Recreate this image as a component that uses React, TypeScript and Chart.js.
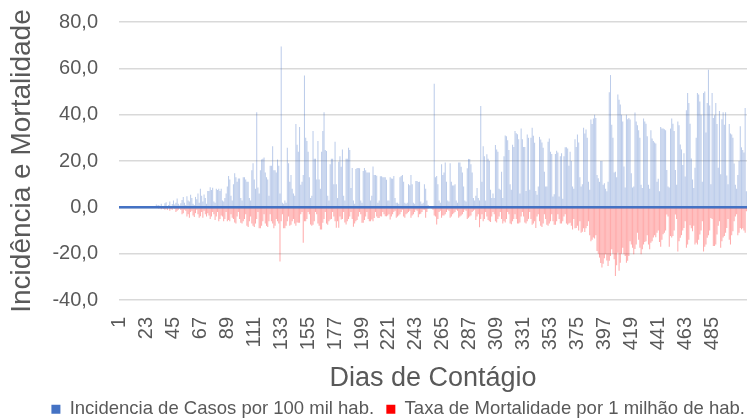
import React, { useEffect, useRef } from 'react';
import { Chart, registerables } from 'chart.js';

Chart.register(...registerables);

// Incidência de casos por 100 mil hab. (dias 1..513)
const incidencia: number[] = [
  0, 0, 0, 0, 0, 0, 0, 0, 0, 0,
  0, 0, 0, 0, 0, 0, 0, 0, 0, 0,
  0, 0, 0, 0, 0, 0, 0, 0, 0, 0,
  1.2, 0.8, 1.0, 0.6, 1.5, 0.4, 0.3, 1.8, 2.2, 0.5,
  1.0, 2.5, 0.6, 1.4, 3.0, 1.2, 2.0, 3.8, 1.5, 0.8,
  1.8, 3.2, 4.5, 2.0, 1.0, 4.8, 3.0, 2.5, 5.4, 4.0,
  1.5, 1.0, 4.5, 3.5, 6.0, 2.0, 8.0, 5.0, 2.5, 5.5,
  4.0, 1.5, 7.0, 7, 8.7, 7.5, 8.5, 2.5, 2, 8,
  7.5, 8, 7, 8, 3, 2.5, 4, 6, 9, 13.5,
  12, 5, 3, 10, 14.7, 13, 11, 12.5, 12.5, 4,
  3, 13, 13, 12, 11, 11, 4, 3, 16, 19,
  12, 8, 41, 8.6, 6, 16, 20.7, 21, 21.5, 15,
  13, 12, 5, 18, 18, 26.4, 16, 16, 15, 20.7,
  18, 6, 69.4, 2, 1.5, 3, 2, 25.7, 19, 11,
  14, 8, 6, 5, 36, 27, 24, 34.7, 9.7, 11,
  14, 56.9, 30, 28.6, 24, 13, 4, 5, 32.9, 21,
  21, 12, 28.6, 12, 8, 24, 33, 41, 24.7, 24.3,
  5, 3, 18.6, 21, 21, 10, 28.3, 10, 4, 19.7,
  22, 17.5, 25, 5, 3, 21, 21, 25.7, 24.7, 8.3,
  17, 3, 1.5, 16.6, 17, 17, 16.9, 3, 2, 15.7,
  17, 16, 15, 15, 15, 3, 5, 17.6, 14, 14,
  13.6, 2, 3, 13.4, 13.4, 13, 13, 13, 11.9, 3,
  3, 13, 12.5, 12.3, 13.5, 4, 2, 2, 1.5, 13,
  13.5, 14, 11, 2, 1.5, 2, 10, 9.5, 14, 10,
  2, 1.5, 11.4, 11.4, 10.9, 11, 2.5, 1.5, 2, 10,
  8, 3, 1, 0.5, 0.5, 0.5, 0.5, 53.3, 13, 13.5,
  10, 3, 2, 18.6, 14, 15, 19.4, 11, 3, 2.5,
  19, 11, 9.4, 9.4, 10, 3, 2, 19.4, 19.4, 17.5,
  15, 9, 3, 2.5, 16.9, 20.9, 20.9, 18.6, 15, 4,
  3, 5, 8.3, 4, 3, 43.7, 11, 26.4, 22, 3,
  22.9, 21, 20, 7.6, 4, 6, 4, 26.9, 25, 24,
  8, 7.6, 15.4, 4, 22, 31, 30.7, 29, 24.7, 10,
  7.6, 27, 26, 33, 32, 31.5, 29.4, 6, 34, 29.4,
  26, 26, 7, 31.4, 30, 7.6, 30, 34.3, 30.9, 27.9,
  7, 5.4, 9, 30.4, 29.3, 28, 25.7, 15.4, 9, 9,
  28.3, 29.7, 24, 23, 4.7, 5.7, 23, 24.4, 23.7, 4.7,
  22, 23.3, 3.7, 22, 25.9, 25.9, 25.4, 18, 24, 20,
  9, 8, 29.4, 26, 31.4, 28, 13, 9, 10, 34.3,
  31.9, 33.6, 30, 11, 7.6, 37.9, 36, 38.3, 40, 38.6,
  14, 12.6, 11, 20, 20, 9.7, 10.4, 8, 6.9, 11,
  49.7, 57.1, 35.7, 30, 15, 15.4, 13, 48.7, 46.4, 44.4,
  40, 37, 17.6, 8.6, 40, 38, 38.6, 37.9, 14.7, 8.6,
  9, 40.9, 37.1, 35.4, 33.3, 30, 9.7, 8.3, 38.3, 37,
  36.1, 30.7, 9.7, 8, 33.3, 29.7, 28.6, 28, 27.6, 11,
  12.3, 6.9, 34.7, 34, 34, 33.7, 33.3, 16.1, 9, 8.6,
  34, 38.3, 36.1, 33, 16.1, 9.7, 37, 35.4, 27.1, 25,
  18.3, 23.3, 13.3, 41.9, 49.4, 45, 36.1, 21.1, 12, 8.3,
  17.1, 30, 49.3, 48.7, 45.7, 40, 11, 49.4, 50, 32.3,
  45, 59.4, 44, 10, 49.3, 38.6, 39.7, 45, 36, 17.1,
  41.6, 14.3, 38, 41, 35.7, 41, 13.7, 10, 36, 31.9,
  31.4, 30, 18.9, 9.7, 8, 14, 20, 35, 25.9, 24.7,
  23.7, 42.9, 6.9,
];

// Taxa de mortalidade por 1 milhão de hab. (plotada negativa)
const mortalidade: number[] = [
  0, 0, 0, 0, 0, 0, 0, 0, 0, 0,
  0, 0, 0, 0, 0, 0, 0, 0, 0, 0,
  0, 0, 0, 0, 0, 0, 0, 0, 0, 0,
  0, -0.3, -0.5, 0, -0.8, -0.4, -0.6, -1.0, -0.5, -1.2,
  -0.3, -1.5, -0.8, -1.0, -0.4, -0.6, -2.0, -1.5, -1.0, -0.5,
  -1.2, -3.0, -2.5, -1.0, -1.5, -4.0, -3.0, -4.5, -2.0, -1.5,
  -3.5, -4.2, -2.5, -1.0, -3.0, -4.5, -3.8, -2.0, -4.5, -1.5,
  -3.0, -4.0, -2.5, -3.5, -5, -4, -2, -3, -5.5, -4,
  -2, -6, -5, -3.5, -4, -6, -5, -2, -6, -5.5,
  -6, -3, -4.5, -5, -6.5, -7, -4, -2, -5, -6.7,
  -7, -6, -5, -3, -8, -8.5, -6, -4, -7, -8,
  -8.5, -7, -5, -2, -9, -9, -8, -6, -3, -7,
  -8, -8.5, -6, -3, -6, -7, -9, -8, -5, -6,
  -7, -23.4, -6, -3, -9, -9, -8, -6, -4, -8,
  -7.5, -6, -5, -7, -8, -6.5, -6.7, -6.7, -3, -2,
  -15.3, -6, -6, -5, -2, -3, -7.4, -8, -7.5, -6,
  -2, -3, -7, -8, -9.6, -9.6, -6.7, -5, -2, -7,
  -7.5, -6, -5.3, -5, -2, -4, -6, -8.8, -6, -8.8,
  -4, -5.3, -5, -2, -6.5, -7.4, -6, -5, -4, -2,
  -5, -8.4, -7, -6, -5.5, -4, -2, -3, -6.7, -6.7,
  -5.5, -4, -2, -5, -6, -6, -5.2, -6, -4.6, -2,
  -4, -4.6, -4.6, -3.9, -4, -2, -3, -3.9, -3.9, -3.5,
  -3, -5.3, -4, -3, -2, -1.5, -4.5, -4, -3.5, -3,
  -2, -1, -4, -4.5, -3, -2.5, -2, -1.5, -4.5, -3.5,
  -3, -2, -1, -1.5, -4.3, -3, -2.8, -2, -1, -1,
  -4.5, -2, -0.5, -0.3, -0.3, -0.5, -1, -3.5, -4, -7.4,
  -5, -2, -1.5, -4.5, -3.5, -3.5, -3, -2, -1, -1.5,
  -4.5, -4, -3, -2.5, -2, -1, -1.5, -4.5, -4, -3.5,
  -3, -2, -1, -1.5, -5, -4.5, -4, -3.5, -2, -1.5,
  -1, -5.5, -4, -3, -8.6, -5, -3, -6, -5, -2,
  -4, -5.5, -6, -6.3, -4, -2, -3, -6, -6.5, -5,
  -4, -2, -5, -7, -6, -6.5, -5, -2, -3, -7,
  -7.3, -6, -5, -3, -5, -7, -7, -6.5, -4, -2,
  -4, -6.5, -7, -6, -5, -2, -5, -7.5, -7, -6,
  -8.9, -4, -3, -6, -8, -8.5, -7, -3, -5, -7.5,
  -8, -7, -6, -3, -6, -7.5, -7.5, -6, -3, -5,
  -7, -7, -6, -4, -3, -7, -7.5, -7, -6.7, -8,
  -9.6, -5, -9, -8.9, -8, -10, -6, -11, -10.5, -9,
  -10.6, -9, -8.1, -6, -12, -14.6, -14, -13, -13.4, -12,
  -18.9, -20, -21.7, -24, -26, -24.3, -22, -20.3, -23, -25.3,
  -23.1, -21, -18.1, -20, -22.4, -29.6, -25, -19.6, -27.4, -23.9,
  -20, -17.4, -20.3, -21, -23.9, -23.1, -21, -14.6, -16, -17.4,
  -20.3, -18, -16, -11, -14, -17.4, -20.3, -18.1, -16, -15,
  -14.6, -12, -16, -18.1, -15.3, -14.6, -13, -12, -12.9, -11,
  -10, -15, -17, -14, -11.6, -11, -10, -3.1, -4, -17,
  -12.4, -13, -12.4, -10, -3.1, -5, -19.1, -14.6, -13.1, -12,
  -10, -8.9, -6, -17.4, -16, -14, -7.7, -9, -10.3, -8,
  -16, -15.3, -16, -14, -11.7, -10, -6, -19.1, -17, -16,
  -13.1, -12, -10, -4.6, -5, -16.7, -16.7, -16, -11.7, -8,
  -6, -17.4, -14.6, -13, -12.4, -11, -8.9, -5, -14, -16,
  -12, -10.3, -6, -4, -3, -12, -11, -8.9, -9.5, -9,
  -10, -11, -1.7,
];

const dias: string[] = incidencia.map((_, i) => String(i + 1));
const diasMarcados: string[] = [
  '1', '23', '45', '67', '89', '111', '133', '155', '177', '199', '221', '243',
  '265', '287', '309', '331', '353', '375', '397', '419', '441', '463', '485',
];
const nomesSeries: string[] = [
  'Incidencia de Casos por 100 mil hab.',
  'Taxa de Mortalidade por 1 milhão de hab.',
];

const TEXT = '#595959';

export default function App() {
  const ref = useRef<HTMLCanvasElement | null>(null);

  useEffect(() => {
    if (!ref.current) return;
    Chart.defaults.font.family = "'Liberation Sans', Arial, sans-serif";

    const zeroLine = {
      id: 'zeroLine',
      afterDatasetsDraw(chart: any) {
        const { ctx, chartArea, scales } = chart;
        const y = scales.y.getPixelForValue(0);
        ctx.save();
        ctx.strokeStyle = '#4472C4';
        ctx.lineWidth = 2.5;
        ctx.beginPath();
        ctx.moveTo(chartArea.left, y);
        ctx.lineTo(chartArea.right, y);
        ctx.stroke();
        ctx.restore();
      },
    };

    const legendColors = ['#4472C4', '#FF0000'];

    const chart = new Chart(ref.current, {
      type: 'bar',
      data: {
        labels: dias,
        datasets: [
          {
            label: nomesSeries[0],
            data: incidencia,
            backgroundColor: 'rgba(68,114,196,0.36)',
            barPercentage: 0.85,
            categoryPercentage: 1,
          },
          {
            label: nomesSeries[1],
            data: mortalidade,
            backgroundColor: 'rgba(255,0,0,0.33)',
            barPercentage: 0.85,
            categoryPercentage: 1,
          },
        ],
      },
      options: {
        responsive: false,
        animation: false,
        devicePixelRatio: 1,
        layout: { padding: { top: 22, right: 0, left: 0, bottom: 0 } },
        plugins: {
          tooltip: { enabled: false },
          legend: {
            position: 'bottom',
            align: 'end',
            maxHeight: 22,
            labels: {
              boxWidth: 9,
              boxHeight: 9,
              padding: 2,
              color: TEXT,
              font: { size: 18.5 },
              generateLabels(chart: any) {
                const items = Chart.defaults.plugins.legend.labels.generateLabels(chart);
                return items.map((it: any, i: number) => ({
                  ...it,
                  text: i === 0 ? it.text + '  ' : it.text,
                  fillStyle: legendColors[i],
                  strokeStyle: legendColors[i],
                  lineWidth: 0,
                }));
              },
            },
          },
        },
        scales: {
          x: {
            stacked: true,
            grid: { display: false, drawTicks: false },
            border: { display: false },
            ticks: {
              autoSkip: false,
              maxRotation: 90,
              minRotation: 90,
              padding: 17,
              color: TEXT,
              font: { size: 20 },
              callback: (_v: any, i: number) => (diasMarcados.includes(dias[i]) ? dias[i] : ''),
            },
            title: {
              display: true,
              text: 'Dias de Contágio',
              color: TEXT,
              font: { size: 27 },
              padding: { top: 0, bottom: 3 },
            },
            afterFit(s: any) {
              s.height = 98;
              s.paddingLeft = 0;
              s.paddingRight = 0;
            },
          },
          y: {
            stacked: true,
            min: -40,
            max: 80,
            grid: { color: '#d9d9d9', lineWidth: 1.5, drawTicks: false },
            border: { display: false },
            ticks: {
              stepSize: 20,
              padding: 21,
              color: TEXT,
              font: { size: 20 },
              callback: (v: any) => Number(v).toFixed(1).replace('.', ','),
            },
            title: {
              display: true,
              text: 'Incidência e Mortalidade',
              color: TEXT,
              font: { size: 28 },
              padding: { top: 5, bottom: 0 },
            },
            afterFit(s: any) {
              s.width = 119;
              s.paddingTop = 0;
              s.paddingBottom = 0;
            },
          },
        },
      },
      plugins: [zeroLine],
    } as any);

    return () => chart.destroy();
  }, []);

  return (
    <div style={{ position: 'absolute', left: 0, top: 0, width: 747, height: 420, background: '#ffffff' }}>
      <canvas ref={ref} width={747} height={420} />
    </div>
  );
}
